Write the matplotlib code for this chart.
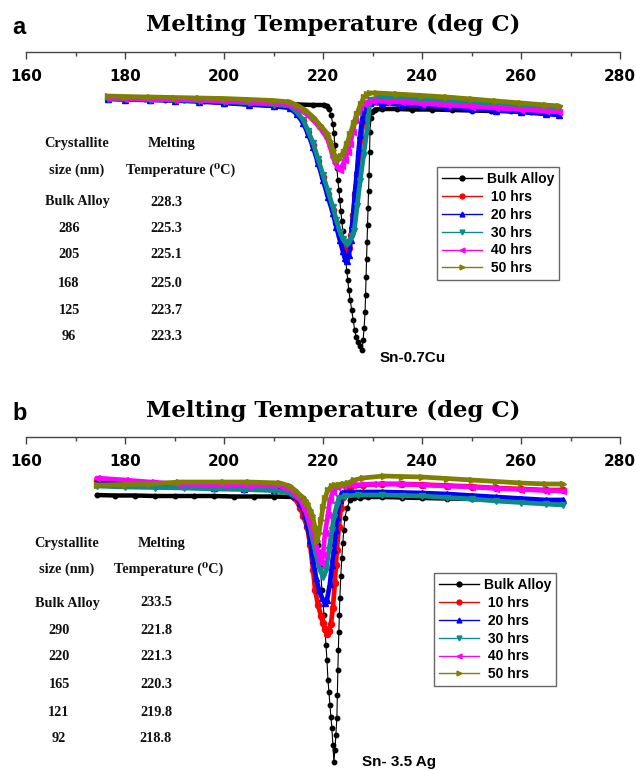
import numpy as np
import matplotlib
matplotlib.use("Agg")
import matplotlib.pyplot as plt
from matplotlib.lines import Line2D
from matplotlib.ticker import MultipleLocator

# ---------------------------------------------------------------- data
series_labels = ["Bulk Alloy", " 10 hrs", " 20 hrs", " 30 hrs", " 40 hrs", " 50 hrs"]
x_ticks = [160, 180, 200, 220, 240, 260, 280]

# Panel a (Sn-0.7Cu): temperature (deg C) and DSC signal (a.u., endotherm downwards)
a_bulk_t = [176.6, 180, 184, 188, 192, 196, 200, 204, 208, 212,
            215, 218, 220.2, 220.8, 221.2, 221.6, 222.0, 222.2, 222.4, 222.6,
            222.8, 223.0, 223.2, 223.4, 223.6, 223.8, 224.0, 224.2, 224.4, 224.6,
            224.8, 225.0, 225.2, 225.5, 225.8, 226.1, 226.4, 226.7, 227.0, 227.4,
            227.9, 228.1, 228.3, 228.5, 228.6, 228.7, 228.8, 228.9, 229.0, 229.1,
            229.2, 229.3, 229.4, 229.5, 229.7, 229.9, 230.5, 232, 235, 238,
            242, 246, 250, 254, 258, 262, 265, 267.7]
a_bulk_y = [97, 98, 99, 99.5, 100, 101, 101.5, 102.5, 103, 104,
            104.5, 105, 105, 106, 109, 115, 124, 133, 145, 157,
            168, 180, 190, 200, 211, 221, 231, 241, 251, 261,
            271, 280, 290, 300, 310, 320, 330, 337, 342, 346,
            350, 340, 328, 312, 295, 277, 259, 242, 225, 208,
            191, 175, 152, 132, 118, 112, 109.5, 109, 109, 109.5,
            109.5, 110, 110.5, 111, 111, 111.5, 112, 112]

a_h10_t = [176.6, 180, 185, 190, 195, 200, 205, 210, 213.3, 214.7,
           216.0, 217.0, 218.0, 219.0, 220.0, 221.0, 222.0, 222.7, 223.4, 224.0,
           224.4, 224.9, 225.3, 225.7, 226.1, 226.5, 226.9, 227.3, 227.7, 228.1,
           228.5, 229.1, 229.7, 232, 236, 240, 245, 250, 255, 260,
           265, 267.7]
a_h10_y = [98.5, 99, 99.5, 100, 101, 102.5, 104, 105.5, 107, 113,
           121, 132, 145, 161, 177, 194, 210, 223, 236, 243,
           247, 250, 248, 235, 215, 195, 175, 155, 138, 122,
           110, 104, 102, 102.5, 103, 104, 105.5, 107, 108.5, 110.5,
           112, 113]

a_h20_t = [176.6, 180, 185, 190, 195, 200, 205, 210, 213.3, 214.7,
           216.0, 217.0, 218.0, 219.0, 220.0, 221.0, 222.0, 222.7, 223.4, 224.0,
           224.4, 224.85, 225.25, 225.6, 225.9, 226.2, 226.5, 226.9, 227.2, 227.5,
           227.9, 228.3, 228.9, 229.5, 232, 236, 240, 245, 250, 255,
           260, 265, 267.7]
a_h20_y = [99, 99.5, 100, 100.5, 101.5, 103, 104.5, 106, 108, 114,
           123, 134, 147, 163, 180, 197, 213, 227, 240, 251,
           258, 261, 255, 240, 225, 208, 190, 170, 150, 135,
           120, 110, 104, 103, 103.5, 104.5, 105.5, 107, 109, 110.5,
           112, 114, 115]

a_h30_t = [176.6, 180, 185, 190, 195, 200, 205, 210, 213.3, 214.7,
           216.0, 217.0, 218.0, 219.0, 220.0, 221.0, 222.0, 222.7, 223.4, 224.0,
           224.4, 224.85, 225.3, 225.8, 226.3, 226.9, 227.5, 228.2, 228.9, 229.5,
           231.5, 235, 240, 245, 250, 255, 260, 265, 267.7]
a_h30_y = [98.5, 99, 99.5, 100, 100.5, 101.5, 103, 104.5, 106, 112,
           120, 131, 143, 159, 175, 191, 207, 220, 232, 239,
           242, 244, 242, 236, 231, 206, 181, 155, 130, 100,
           97, 98, 99.5, 101, 102.5, 104, 105.5, 107, 108]

a_h40_t = [176.6, 180, 185, 190, 195, 200, 205, 210, 213.3, 214.7,
           216.4, 218.0, 219.4, 220.8, 221.4, 222.0, 222.5, 223.0, 223.4, 223.9,
           224.4, 225.0, 225.5, 226.0, 226.5, 227.0, 227.5, 228.2, 228.9, 230,
           233, 236, 240, 245, 250, 255, 260, 265, 267.7]
a_h40_y = [98, 98.5, 99, 99.5, 100, 101, 102, 103, 104.5, 108,
           113, 120, 128, 138, 146, 157, 163, 168, 170, 166,
           160, 152, 144, 132, 120, 112, 107, 104, 102, 101,
           101.5, 102, 103.5, 105, 106.5, 108, 109.5, 111, 112]

a_h50_t = [176.6, 180, 185, 190, 195, 200, 205, 210, 213.3, 214.7,
           216.4, 218.0, 219.4, 220.8, 221.4, 222.0, 222.4, 222.8, 223.2, 223.6,
           224.2, 224.8, 225.5, 226.2, 226.9, 227.6, 228.3, 228.9, 229.5, 231,
           235, 240, 245, 250, 255, 260, 265, 267.7]
a_h50_y = [96, 96.5, 97, 97.5, 98, 98.5, 99.5, 100.5, 102, 105,
           110, 117, 125, 133, 141, 150, 156, 160, 159, 156,
           152, 144, 134, 123, 114, 104, 97, 94, 93, 93,
           94, 95.5, 97, 99, 101, 103, 105, 106]

# Panel b (Sn-3.5Ag)
b_bulk_t = [174.3, 178, 182, 186, 190, 194, 198, 202, 206, 210,
            214, 216.0, 216.8, 217.4, 217.8, 218.4, 218.8, 219.0, 219.4, 219.8,
            220.2, 220.4, 220.6, 220.8, 221.0, 221.2, 221.4, 221.6, 221.8, 222.0,
            222.2, 222.4, 222.6, 222.8, 222.9, 223.0, 223.1, 223.2, 223.3, 223.4,
            223.6, 223.8, 224.0, 224.2, 224.4, 224.85, 225.45, 226.3, 227.5, 229,
            232, 236, 240, 245, 250, 255, 260, 265, 268.5]
b_bulk_y = [495, 495.5, 495.5, 496, 496, 496, 496, 496.5, 496.5, 496.5,
            497, 498, 505, 512, 517, 528, 541, 545, 565, 590,
            615, 630, 645, 660, 680, 692, 705, 717, 728, 745,
            762, 750, 735, 718, 695, 670, 650, 632, 615, 598,
            576, 558, 543, 530, 518, 508, 500, 498, 497.5, 497,
            497, 497.5, 498, 498.5, 499, 500, 501, 502, 502]

b_h10_t = [174.3, 180, 186, 192, 198, 204, 210, 213.3, 214.3, 215.4,
           216.0, 216.8, 217.4, 218.0, 218.4, 219.0, 219.6, 220.0, 220.4, 220.8,
           221.2, 221.6, 222.0, 222.4, 222.6, 222.8, 223.2, 223.6, 224.0, 224.85,
           225.45, 228, 232, 236, 240, 245, 250, 255, 260, 265,
           268.5]
b_h10_y = [481, 482, 483, 484.5, 485.5, 487, 488.5, 492, 498, 508,
           516, 527, 545, 570, 590, 605, 616, 623, 629, 634,
           631, 624, 608, 583, 565, 550, 527, 508, 497, 489,
           487, 485, 484, 484, 484.5, 485.5, 486.5, 488, 489, 490,
           490]

b_h20_t = [174.3, 180, 186, 192, 198, 204, 210, 213.3, 214.3, 215.4,
           216.4, 216.8, 217.4, 218.0, 218.6, 219.2, 219.8, 220.4, 220.8, 221.4,
           221.8, 222.2, 222.6, 222.8, 223.4, 223.8, 225, 228, 232, 236,
           240, 245, 250, 255, 260, 265, 268.5]
b_h20_y = [483, 484, 485, 486, 487.5, 489, 490, 492, 496, 503,
           515, 523, 540, 560, 578, 590, 598, 603, 600, 584,
           565, 550, 530, 517, 500, 493, 492, 492, 492, 492.5,
           493, 494, 495.5, 497, 498.5, 500, 500]

b_h30_t = [174.3, 180, 186, 192, 198, 204, 210, 213.3, 215.4, 216.4,
           217.4, 217.8, 218.6, 219.4, 220.0, 220.6, 221.2, 221.8, 222.2, 222.8,
           223.2, 224.5, 227, 232, 236, 240, 245, 250, 255, 260,
           265, 268.5]
b_h30_y = [486, 487, 487.5, 488, 489, 489.5, 490.5, 493, 500, 510,
           527, 537, 555, 570, 577, 570, 550, 530, 517, 505,
           498, 496, 495, 495, 495.5, 496, 497.5, 499, 501, 502.5,
           504, 505]

b_h40_t = [174.3, 180, 185, 191, 200, 205, 211.3, 213.3, 214.3, 215.4,
           216.4, 217.4, 218.4, 219.0, 219.6, 220.0, 220.4, 221.0, 221.4, 222.0,
           222.8, 224, 226, 230, 235, 240, 245, 250, 255, 260,
           265, 268.5]
b_h40_y = [478, 480, 482, 484, 485, 485.5, 486, 490, 494, 500,
           510, 523, 540, 552, 563, 555, 533, 515, 500, 492,
           487, 486, 485, 484, 484, 485, 486, 487, 488.5, 489.5,
           490.5, 491]

b_h50_t = [174.3, 180, 185, 191, 200, 205, 211.3, 213.3, 214.3, 215.4,
           216.4, 216.8, 217.4, 217.8, 218.4, 218.8, 219.2, 219.6, 220.0, 220.4,
           221.0, 221.8, 222.4, 223.2, 224.2, 225.0, 226.3, 228, 232.3, 236,
           240, 245, 250, 255, 260, 265, 268.5]
b_h50_y = [485, 484.5, 484, 482, 482, 482, 483, 486, 490, 495,
           500, 503, 510, 515, 527, 541, 533, 520, 507, 498,
           490, 486, 485, 484.5, 484, 483, 480, 478, 476, 476.5,
           477, 478.5, 480, 481.5, 483, 484, 484]

# inset tables
table_head_size = ["Crystallite", "size (nm)"]
table_head_temp = ["Melting", "Temperature (\u2070C)"]
a_table_size = ["Bulk Alloy", "286", "205", "168", "125", "96"]
a_table_tm = ["228.3", "225.3", "225.1", "225.0", "223.7", "223.3"]
b_table_size = ["Bulk Alloy", "290", "220", "165", "121", "92"]
b_table_tm = ["233.5", "221.8", "221.3", "220.3", "219.8", "218.8"]

alloy_a = "Sn-0.7Cu"
alloy_b = "Sn- 3.5 Ag"
title = "Melting Temperature (deg C)"

# ---------------------------------------------------------------- style
colors = ["#000000", "#ff0000", "#0000ff", "#0e8a8a", "#ff00ff", "#808000"]
markers = ["o", "o", "^", "v", "<", ">"]

W, H = 636, 770
fig = plt.figure(figsize=(W / 100, H / 100), dpi=100)
fig.patch.set_facecolor("white")

SANS = ["Liberation Sans", "DejaVu Sans"]
SERIF = ["Liberation Serif", "DejaVu Serif"]


def fx(px):
    return px / W


def fy(py):
    return 1 - py / H


def ftext(x, y, s, **kw):
    fig.text(fx(x), fy(y), s, **kw)


def make_axes(top_px, bottom_px):
    ax = fig.add_axes([fx(26), fy(bottom_px), fx(620) - fx(26),
                       fy(top_px) - fy(bottom_px)])
    ax.set_xlim(160, 280)
    ax.set_ylim(bottom_px, top_px)
    ax.patch.set_alpha(0)
    for s in ["left", "right", "top"]:
        ax.spines[s].set_visible(False)
    ax.spines["bottom"].set_position(("axes", 1.0))
    ax.spines["bottom"].set_color("#444444")
    ax.spines["bottom"].set_linewidth(1.0)
    ax.set_yticks([])
    ax.set_xticks(x_ticks)
    ax.xaxis.set_minor_locator(MultipleLocator(10))
    ax.tick_params(axis="x", which="major", direction="out", length=5,
                   width=1, color="#444444", pad=7.5)
    ax.tick_params(axis="x", which="minor", direction="out", length=3,
                   width=1, color="#444444")
    for lab in ax.get_xticklabels():
        lab.set_fontfamily("DejaVu Sans")
        lab.set_fontweight("bold")
        lab.set_fontsize(11)
    return ax


def draw_panel(ax, data, flat_limit):
    for i, (t, y) in enumerate(data):
        t = np.asarray(t, float)
        y = np.asarray(y, float)
        c = colors[i]
        if i == 0:
            band = np.ma.masked_where(y > flat_limit, y)
            ax.plot(t, band, color=c, lw=3.2, solid_capstyle="round", zorder=2)
            ax.plot(t, y, color=c, lw=0.8, marker=markers[i], ms=3.2,
                    mec=c, mfc=c, zorder=2)
        else:
            ax.plot(t, y, color=c, lw=3.4, marker=markers[i], ms=4.4,
                    mec=c, mfc=c, zorder=2 + i, solid_joinstyle="round",
                    solid_capstyle="round")


def draw_legend(x_px, y_px):
    handles = [Line2D([0], [0], color=colors[i], lw=1.0, marker=markers[i],
                      ms=3.5, mfc=colors[i], mec=colors[i])
               for i in range(6)]
    leg = fig.legend(handles, series_labels, loc="upper left",
                     bbox_to_anchor=(fx(x_px), fy(y_px)),
                     bbox_transform=fig.transFigure, borderaxespad=0,
                     numpoints=1, frameon=True, fancybox=False,
                     borderpad=0.35, labelspacing=0.28, handlelength=2.9,
                     handletextpad=0.35,
                     prop={"family": SANS, "weight": "bold", "size": 10})
    fr = leg.get_frame()
    fr.set_edgecolor("#666666")
    fr.set_linewidth(1.0)
    fr.set_facecolor("white")
    fr.set_alpha(1)


def draw_table(col1_x, col2_x, head_y, rows_y, sizes, temps, head2_dx):
    kw = dict(fontfamily=SERIF, fontweight="bold", fontsize=10.3,
              ha="center", va="center", color="#111111")
    ftext(col1_x, head_y[0], table_head_size[0], **kw)
    ftext(col1_x, head_y[1], table_head_size[1], **kw)
    ftext(col2_x + head2_dx[0], head_y[0], table_head_temp[0], **kw)
    ftext(col2_x + head2_dx[1], head_y[1], table_head_temp[1], **kw)
    for k, (s, tm) in enumerate(zip(sizes, temps)):
        dx = 0 if k == 0 else -8
        ftext(col1_x + dx, rows_y[k], s, **kw)
        ftext(col2_x, rows_y[k], tm, **kw)


# ---------------------------------------------------------------- panel a
ax_a = make_axes(52, 370)
draw_panel(ax_a, [(a_bulk_t, a_bulk_y), (a_h10_t, a_h10_y), (a_h20_t, a_h20_y),
                  (a_h30_t, a_h30_y), (a_h40_t, a_h40_y), (a_h50_t, a_h50_y)],
           flat_limit=112)
ftext(12, 27, "a", fontfamily=SANS, fontweight="bold", fontsize=17,
      ha="left", va="center")
ftext(333, 31, title, fontfamily="DejaVu Serif", fontweight="bold",
      fontsize=16.5, ha="center", va="baseline")
draw_table(77, 166, (143, 170), [202, 228, 255, 283, 310, 337],
           a_table_size, a_table_tm, (6, 15))
draw_legend(437, 167)
ftext(380, 358, alloy_a, fontfamily=SANS, fontweight="bold", fontsize=11,
      ha="left", va="center")

# ---------------------------------------------------------------- panel b
ax_b = make_axes(437, 770)
draw_panel(ax_b, [(b_bulk_t, b_bulk_y), (b_h10_t, b_h10_y), (b_h20_t, b_h20_y),
                  (b_h30_t, b_h30_y), (b_h40_t, b_h40_y), (b_h50_t, b_h50_y)],
           flat_limit=500)
ftext(12, 413, "b", fontfamily=SANS, fontweight="bold", fontsize=17,
      ha="left", va="center")
ftext(333, 417, title, fontfamily="DejaVu Serif", fontweight="bold",
      fontsize=16.5, ha="center", va="baseline")
draw_table(67, 156, (543, 569), [603, 630, 657, 684, 712, 739],
           b_table_size, b_table_tm, (6, 13))
draw_legend(434, 573)
ftext(362, 762, alloy_b, fontfamily=SANS, fontweight="bold", fontsize=11,
      ha="left", va="center")

fig.savefig("out.png", dpi=100, facecolor="white")
